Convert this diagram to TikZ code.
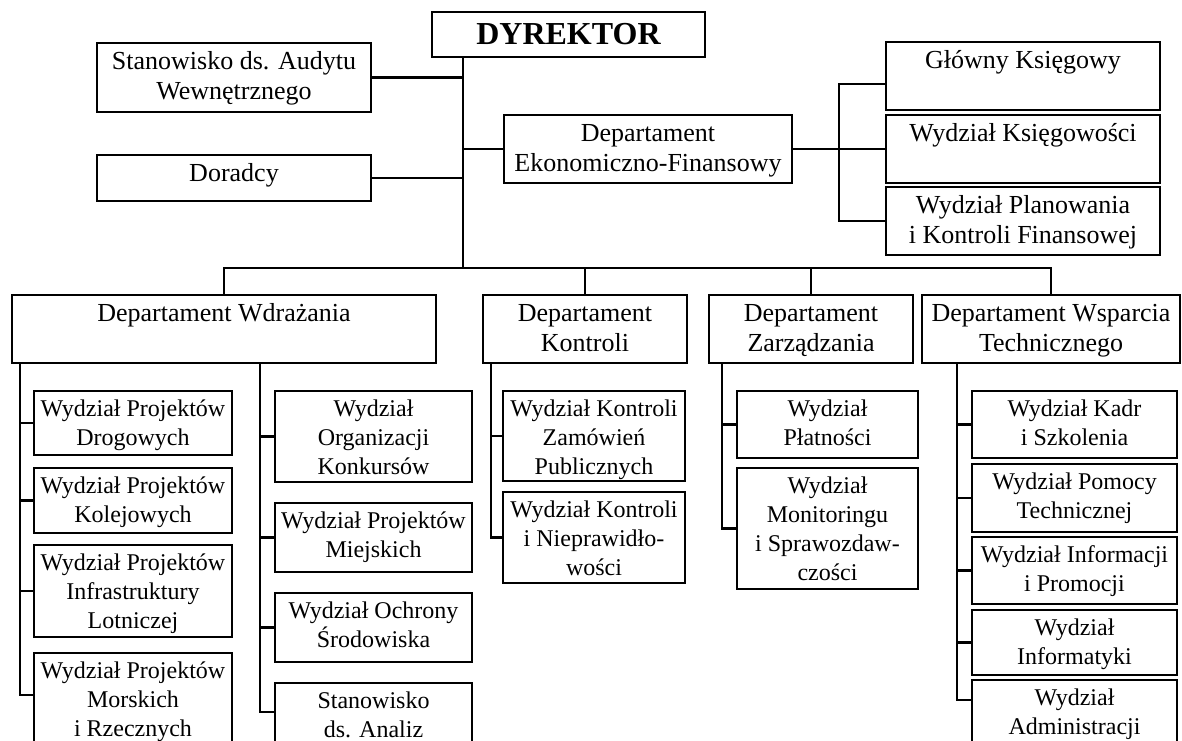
\documentclass[tikz,border=0pt]{standalone}
\usepackage{fontspec}
\setmainfont{Liberation Serif}
\usepackage{tikz}
\tikzset{every picture/.style={x=0.5pt,y=-0.5pt},
  box/.style={draw=black, line width=0.8pt, anchor=north west, inner sep=0pt, outer sep=0pt, font=\fontsize{13}{15}\selectfont},
  wydz/.style={box, font=\fontsize{12}{14.5}\selectfont},
  szef/.style={box, font=\fontsize{16}{18}\selectfont\bfseries},
  link/.style={line width=1.2pt}}
% box of w x h pixels, text starting at the top
\newcommand{\cell}[3]{\parbox[t][\dimexpr#2pt/2\relax][t]{\dimexpr#1pt/2\relax}{\centering\rule{0pt}{\dimexpr\baselineskip-2pt\relax}#3}}

\begin{document}
\begin{tikzpicture}
    \useasboundingbox (0,0) rectangle (1182,740);
    \clip (0,0) rectangle (1182,740);

    \node[szef](dyr) at (432,12){\cell{273}{45}{DYREKTOR}};
    \node[box](audyt) at (97,43){\cell{274}{69}{Stanowisko ds. Audytu\\Wewnętrznego}};
    \node[box](doradcy) at (97,155){\cell{274}{46}{Doradcy}};
    \node[box](ekon) at (504,115){\cell{288}{68}{Departament\\Ekonomiczno-Finansowy}};
    \node[box](glowny) at (886,42){\cell{274}{68}{Główny Księgowy}};
    \node[box](ksieg) at (886,115){\cell{274}{68}{Wydział Księgowości}};
    \node[box](plan) at (886,187){\cell{274}{68}{Wydział Planowania\\i Kontroli Finansowej}};

    \node[box](wdr) at (12,295){\cell{424}{68}{Departament Wdrażania}};
    \node[box](kon) at (483,295){\cell{204}{68}{Departament\\Kontroli}};
    \node[box](zarz) at (709,295){\cell{204}{68}{Departament\\Zarządzania}};
    \node[box](wsp) at (922,295){\cell{258}{68}{Departament Wsparcia\\Technicznego}};

    \node[wydz](drog) at (34,391){\cell{198}{64}{Wydział Projektów\\Drogowych}};
    \node[wydz](kolej) at (34,468){\cell{198}{65}{Wydział Projektów\\Kolejowych}};
    \node[wydz](lotn) at (34,545){\cell{198}{92}{Wydział Projektów\\Infrastruktury\\Lotniczej}};
    \node[wydz](morsk) at (34,653){\cell{198}{92}{Wydział Projektów\\Morskich\\i Rzecznych}};
    \node[wydz](konk) at (275,391){\cell{197}{91}{Wydział\\Organizacji\\Konkursów}};
    \node[wydz](miej) at (275,503){\cell{197}{69}{Wydział Projektów\\Miejskich}};
    \node[wydz](srod) at (275,593){\cell{197}{69}{Wydział Ochrony\\Środowiska}};
    \node[wydz](anal) at (275,683){\cell{197}{92}{Stanowisko\\ds. Analiz}};

    \node[wydz](zamow) at (503,391){\cell{182}{90}{Wydział Kontroli\\Zamówień\\Publicznych}};
    \node[wydz](niepr) at (503,492){\cell{182}{91}{Wydział Kontroli\\i Nieprawidło-\\wości}};

    \node[wydz](platn) at (737,391){\cell{181}{67}{Wydział\\Płatności}};
    \node[wydz](monit) at (737,468){\cell{181}{121}{Wydział\\Monitoringu\\i Sprawozdaw-\\czości}};

    \node[wydz](kadr) at (972,391){\cell{205}{67}{Wydział Kadr\\i Szkolenia}};
    \node[wydz](pomoc) at (972,464){\cell{205}{68}{Wydział Pomocy\\Technicznej}};
    \node[wydz](promo) at (972,537){\cell{205}{67}{Wydział Informacji\\i Promocji}};
    \node[wydz](infor) at (972,610){\cell{205}{65}{Wydział\\Informatyki}};
    \node[wydz](admin) at (972,680){\cell{205}{92}{Wydział\\Administracji}};

    \coordinate (bus) at (463,268);
    \coordinate (fin) at (839,148);
    \coordinate (s1) at (20,363);
    \coordinate (s2) at (260,363);
    \coordinate (s3) at (491,363);
    \coordinate (s4) at (722,363);
    \coordinate (s5) at (957,363);

    \draw[link](dyr.south -| bus)--(bus);
    \draw[link](audyt.east)--(audyt.east -| bus);
    \draw[link](doradcy.east)--(doradcy.east -| bus);
    \draw[link](ekon.west -| bus)--(ekon.west);
    \draw[link](ekon.east)--(ksieg.west);
    \draw[link]([yshift=-4pt]glowny.west) -| (fin) |- (plan.west);

    \draw[link](wdr.north) |- (bus) -| (wsp.north);
    \draw[link](kon.north)--(kon.north |- bus);
    \draw[link](zarz.north)--(zarz.north |- bus);

    \draw[link](s1) |- ([yshift=-21pt]morsk.north west);
    \draw[link](s1 |- drog.west)--(drog.west);
    \draw[link](s1 |- kolej.west)--(kolej.west);
    \draw[link](s1 |- lotn.west)--(lotn.west);

    \draw[link](s2) |- ([yshift=-14.5pt]anal.north west);
    \draw[link](s2 |- konk.west)--(konk.west);
    \draw[link](s2 |- miej.west)--(miej.west);
    \draw[link](s2 |- srod.west)--(srod.west);

    \draw[link](s3) |- (niepr.west);
    \draw[link](s3 |- zamow.west)--(zamow.west);

    \draw[link](s4) |- (monit.west);
    \draw[link](s4 |- platn.west)--(platn.west);

    \draw[link](s5) |- ([yshift=-10pt]admin.north west);
    \draw[link](s5 |- kadr.west)--(kadr.west);
    \draw[link](s5 |- pomoc.west)--(pomoc.west);
    \draw[link](s5 |- promo.west)--(promo.west);
    \draw[link](s5 |- infor.west)--(infor.west);
\end{tikzpicture}
\end{document}
